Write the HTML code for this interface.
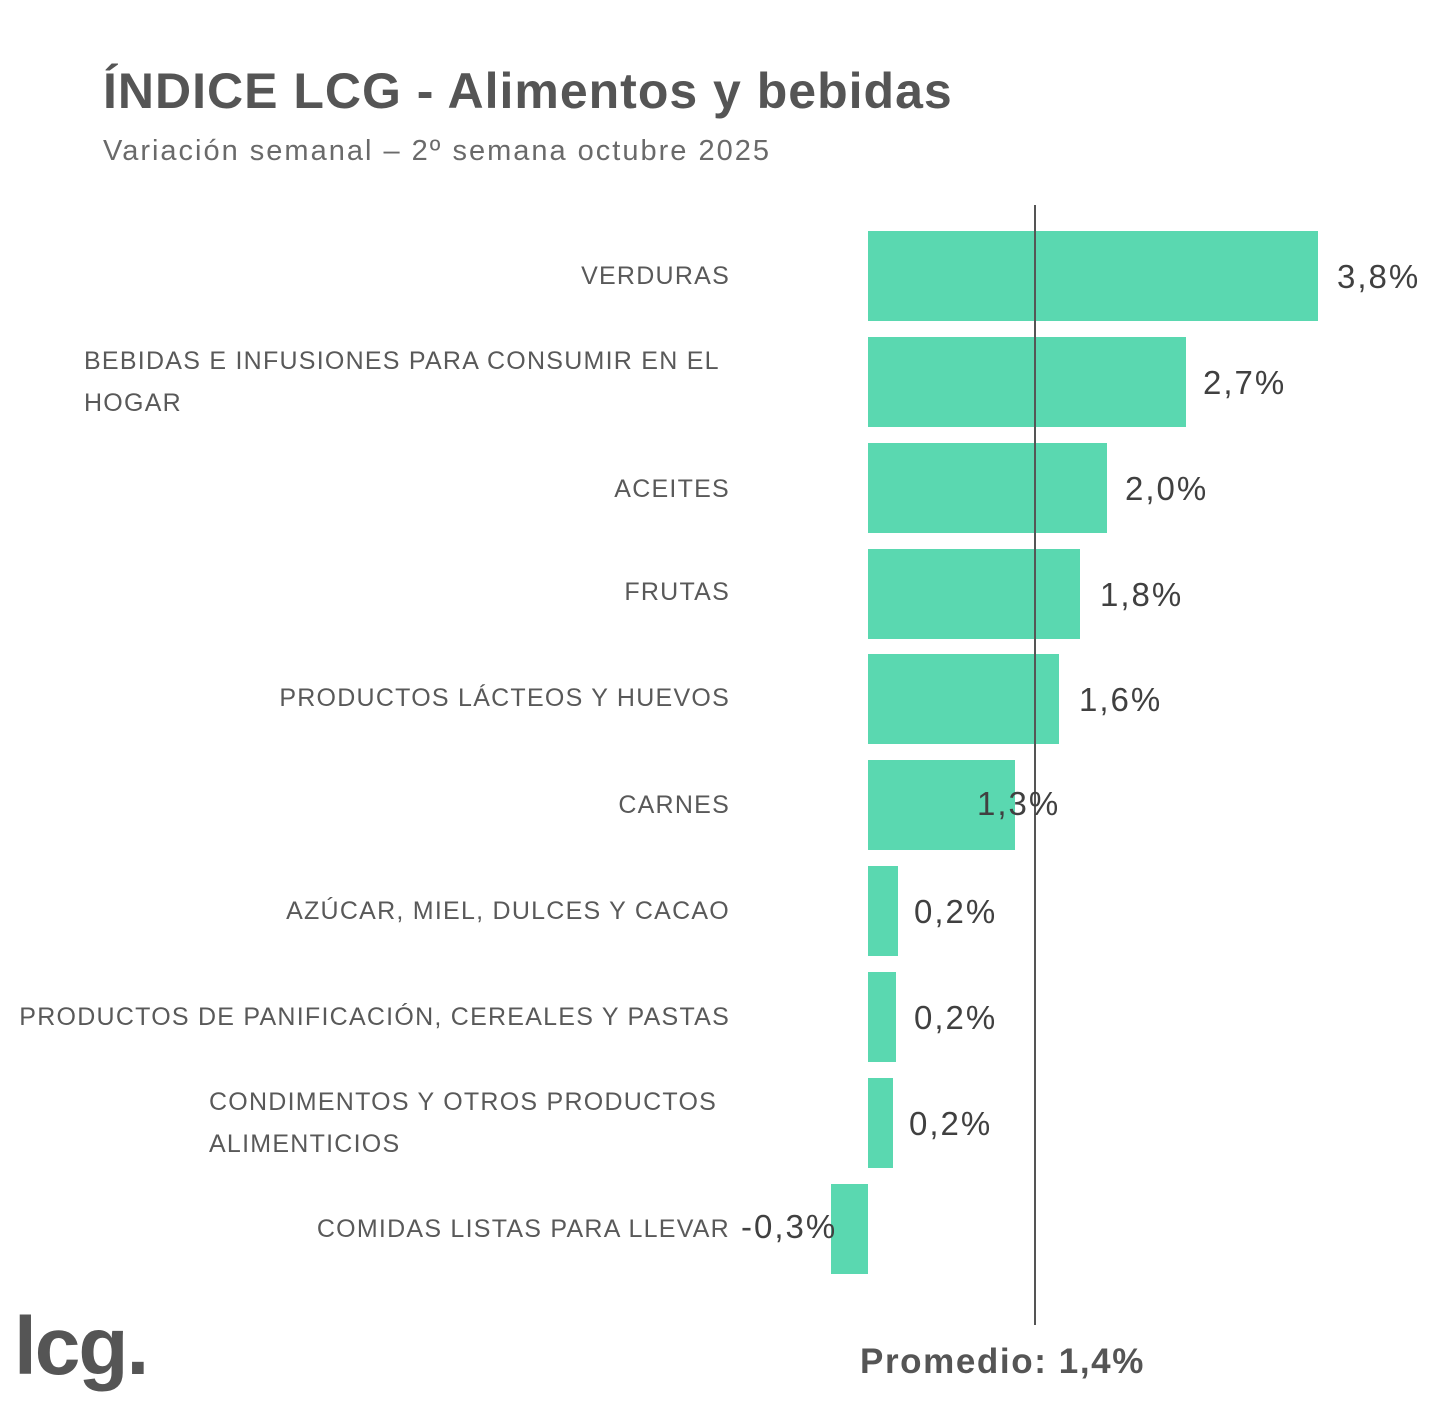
<!DOCTYPE html>
<html><head><meta charset="utf-8"><style>
body{margin:0;width:1440px;height:1404px;background:#fff;position:relative;overflow:hidden;font-family:"Liberation Sans",sans-serif}
div{position:absolute;white-space:nowrap}
.b{background:#5ad8b0;height:90px}
.l{right:710px;font-size:25px;color:#595959;text-align:right;line-height:42px;letter-spacing:1.25px}
.v{font-size:33px;color:#404040;line-height:40px;letter-spacing:2px}
</style></head><body>
<div style="left:103px;top:62px;font-size:50px;font-weight:bold;color:#555;letter-spacing:1px">ÍNDICE LCG - Alimentos y bebidas</div>
<div style="left:103px;top:135px;font-size:29px;color:#6a6a6a;letter-spacing:2px">Variación semanal – 2º semana octubre 2025</div>

<div class="b" style="left:868px;top:231px;width:450px"></div>
<div class="b" style="left:868px;top:337px;width:318px"></div>
<div class="b" style="left:868px;top:443px;width:239px"></div>
<div class="b" style="left:868px;top:549px;width:212px"></div>
<div class="b" style="left:868px;top:654px;width:191px"></div>
<div class="b" style="left:868px;top:760px;width:147px"></div>
<div class="b" style="left:868px;top:866px;width:30px"></div>
<div class="b" style="left:868px;top:972px;width:28px"></div>
<div class="b" style="left:868px;top:1078px;width:25px"></div>
<div class="b" style="left:831px;top:1184px;width:37px"></div>
<div style="left:1034px;top:205px;width:1.5px;height:1120px;background:#555"></div>

<div class="l" style="top:255px">VERDURAS</div>
<div class="l" style="top:340px;text-align:left;left:84px;right:auto">BEBIDAS E INFUSIONES PARA CONSUMIR EN EL<br>HOGAR</div>
<div class="l" style="top:468px">ACEITES</div>
<div class="l" style="top:571px">FRUTAS</div>
<div class="l" style="top:677px">PRODUCTOS LÁCTEOS Y HUEVOS</div>
<div class="l" style="top:784px">CARNES</div>
<div class="l" style="top:890px">AZÚCAR, MIEL, DULCES Y CACAO</div>
<div class="l" style="top:996px">PRODUCTOS DE PANIFICACIÓN, CEREALES Y PASTAS</div>
<div class="l" style="top:1081px;text-align:left;left:209px;right:auto">CONDIMENTOS Y OTROS PRODUCTOS<br>ALIMENTICIOS</div>
<div class="l" style="top:1208px">COMIDAS LISTAS PARA LLEVAR</div>

<div class="v" style="left:1337px;top:257px">3,8%</div>
<div class="v" style="left:1203px;top:363px">2,7%</div>
<div class="v" style="left:1125px;top:469px">2,0%</div>
<div class="v" style="left:1100px;top:575px">1,8%</div>
<div class="v" style="left:1079px;top:680px">1,6%</div>
<div class="v" style="left:977px;top:784px">1,3%</div>
<div class="v" style="left:914px;top:892px">0,2%</div>
<div class="v" style="left:914px;top:998px">0,2%</div>
<div class="v" style="left:909px;top:1104px">0,2%</div>
<div class="v" style="left:741px;top:1207px">-0,3%</div>

<div style="left:14px;top:1300px;font-size:82px;font-weight:bold;color:#555;letter-spacing:-2px">lcg.</div>
<div style="left:860px;top:1342px;font-size:35px;font-weight:bold;color:#555;letter-spacing:1.6px">Promedio: 1,4%</div>
</body></html>
